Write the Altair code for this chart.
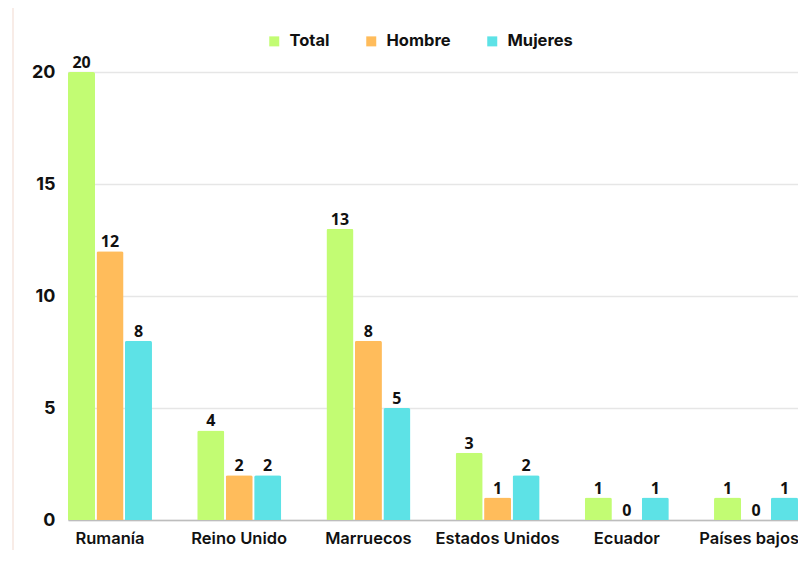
import altair as alt
import pandas as pd

countries = ["Rumanía", "Reino Unido", "Marruecos", "Estados Unidos", "Ecuador", "Países bajos"]
series = ["Total", "Hombre", "Mujeres"]
total = [20, 4, 13, 3, 1, 1]
hombre = [12, 2, 8, 1, 0, 0]
mujeres = [8, 2, 5, 2, 1, 1]
colors = ["#C2FC73", "#FFBC5B", "#5DE2E6"]

rows = []
for i, c in enumerate(countries):
    for s, vals in zip(series, [total, hombre, mujeres]):
        rows.append({"País": c, "Serie": s, "Valor": vals[i]})
df = pd.DataFrame(rows)

W, H = 730, 448
last = countries[-1]

x = alt.X("País:N", sort=countries, title=None,
          scale=alt.Scale(paddingInner=0.35, paddingOuter=0),
          axis=alt.Axis(labelAngle=0, labelFont="Inter", labelFontSize=16.5, labelFontWeight=600,
                        labelColor="#111111", labelPadding=10, ticks=False, domainColor="#bdbdbd",
                        domainWidth=1.5, grid=False, labelLimit=300,
                        labelAlign={"condition": {"test": f"datum.value === '{last}'", "value": "right"},
                                    "value": "center"},
                        labelOffset={"condition": {"test": f"datum.value === '{last}'", "value": 43},
                                     "value": 0}))
xo = alt.XOffset("Serie:N", sort=series, scale=alt.Scale(paddingInner=0.05, paddingOuter=0))
y = alt.Y("Valor:Q", title=None, scale=alt.Scale(domain=[0, 20], nice=False),
          axis=alt.Axis(values=[0, 5, 10, 15, 20], labelFont="Inter", labelFontSize=18,
                        labelFontWeight=700, labelColor="#111111", labelPadding=13,
                        ticks=False, domain=False, gridColor="#e6e6e6", gridWidth=1.5))

color = alt.Color("Serie:N", sort=series,
                  scale=alt.Scale(domain=series, range=colors),
                  legend=alt.Legend(title=None, orient="none", direction="horizontal",
                                    legendX=198, legendY=-39, symbolType="square",
                                    symbolSize=100, symbolStrokeWidth=0, symbolOpacity=1,
                                    labelFont="Inter", labelFontSize=16.5, labelFontWeight=700,
                                    labelColor="#111111", labelOffset=7, columnPadding=33))

bars = alt.Chart(df).mark_bar(cornerRadiusTopLeft=2, cornerRadiusTopRight=2, opacity=1).encode(
    x=x, xOffset=xo, y=y, color=color)

labels = alt.Chart(df).mark_text(font="Open Sans", fontSize=16, fontWeight=700, color="#111111",
                                 baseline="bottom", dy=-1).encode(
    x=alt.X("País:N", sort=countries), xOffset=alt.XOffset("Serie:N", sort=series),
    y="Valor:Q", text="Valor:Q")

border = alt.Chart(pd.DataFrame({"v": [0]})).mark_rule(color="#f8ece7", strokeWidth=2, clip=False).encode(
    x=alt.value(-55), y=alt.value(-70), y2=alt.value(H + 36))

chart = alt.layer(border, bars, labels).properties(
    width=W, height=H,
    autosize=alt.AutoSizeParams(type="none"),
    padding={"left": 60, "top": 64, "right": 0, "bottom": 30},
).configure_view(stroke=None).configure(background="white")

chart.save("out.html", embed_options={"renderer": "svg", "actions": False})
